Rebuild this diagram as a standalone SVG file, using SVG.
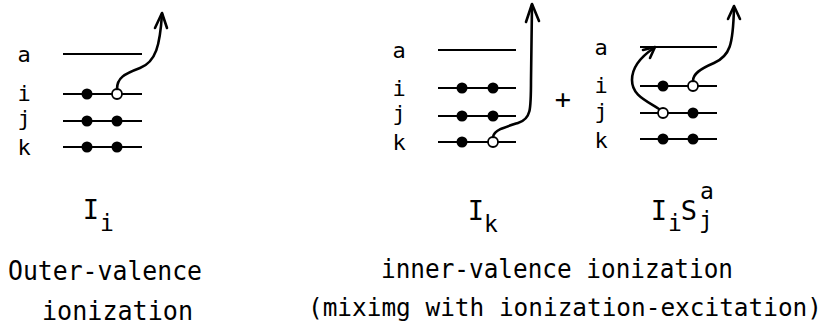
<svg xmlns="http://www.w3.org/2000/svg" width="834" height="326" viewBox="0 0 834 326">
<style>
.lv{stroke:#000;stroke-width:2;fill:none}
.e{fill:#000}
.h{fill:#fff;stroke:#000;stroke-width:1.8}
.arr{stroke:#000;stroke-width:2.6;fill:none;stroke-linecap:round;stroke-linejoin:round}
.lab{font-family:"DejaVu Sans Mono",monospace;font-size:22px;fill:#000;text-anchor:middle}
.big{font-family:"DejaVu Sans Mono",monospace;font-size:26px;fill:#000}
.big2{font-family:"DejaVu Sans Mono",monospace;font-size:24.4px;fill:#000}
.sym{font-family:"DejaVu Sans Mono",monospace;font-size:27px;fill:#000;text-anchor:middle}
.sub{font-family:"DejaVu Sans Mono",monospace;font-size:23px;fill:#000;text-anchor:middle}
</style>
<rect width="834" height="326" fill="#fff"/>
<g id="panel-outer">
<text class="lab" x="24" y="62">a</text>
<text class="lab" x="24" y="101">i</text>
<text class="lab" x="24" y="126">j</text>
<text class="lab" x="24" y="155">k</text>
<line class="lv" x1="63" y1="54" x2="142" y2="54"/>
<line class="lv" x1="63" y1="94" x2="142" y2="94"/>
<line class="lv" x1="63" y1="121" x2="142" y2="121"/>
<line class="lv" x1="63" y1="147" x2="142" y2="147"/>
<circle class="e" cx="87" cy="94" r="5.5"/>
<circle class="h" cx="117" cy="94" r="5"/>
<circle class="e" cx="87" cy="121" r="5.5"/>
<circle class="e" cx="117" cy="121" r="5.5"/>
<circle class="e" cx="87" cy="147" r="5.5"/>
<circle class="e" cx="117" cy="147" r="5.5"/>
</g>
<g id="panel-inner">
<text class="lab" x="399" y="58">a</text>
<text class="lab" x="399" y="96">i</text>
<text class="lab" x="399" y="121">j</text>
<text class="lab" x="399" y="150">k</text>
<line class="lv" x1="438" y1="50" x2="516" y2="50"/>
<line class="lv" x1="438" y1="88" x2="516" y2="88"/>
<line class="lv" x1="438" y1="116" x2="516" y2="116"/>
<line class="lv" x1="438" y1="142" x2="516" y2="142"/>
<circle class="e" cx="462" cy="88" r="5.5"/>
<circle class="e" cx="493" cy="88" r="5.5"/>
<circle class="e" cx="462" cy="116" r="5.5"/>
<circle class="e" cx="493" cy="116" r="5.5"/>
<circle class="e" cx="462" cy="142" r="5.5"/>
<circle class="h" cx="493" cy="142" r="5"/>
</g>
<g id="plus"><text class="sym" x="563" y="108">+</text></g>
<g id="panel-excitation">
<text class="lab" x="601" y="55">a</text>
<text class="lab" x="601" y="93">i</text>
<text class="lab" x="601" y="119">j</text>
<text class="lab" x="601" y="148">k</text>
<line class="lv" x1="640" y1="47" x2="717" y2="47"/>
<line class="lv" x1="640" y1="86" x2="717" y2="86"/>
<line class="lv" x1="640" y1="113" x2="717" y2="113"/>
<line class="lv" x1="640" y1="139" x2="717" y2="139"/>
<circle class="e" cx="663" cy="86" r="5.5"/>
<circle class="h" cx="693" cy="86" r="5"/>
<circle class="h" cx="663" cy="113" r="5"/>
<circle class="e" cx="693" cy="113" r="5.5"/>
<circle class="e" cx="663" cy="139" r="5.5"/>
<circle class="e" cx="693" cy="139" r="5.5"/>
</g>
<g id="connectors">
<path class="arr" d="M117,89 C117,78 124,74 140,68 C156,62 160,45 162,14"/>
<path class="arr" d="M155,28 L162,13 L167,28"/>
<path class="arr" d="M493,137 C494,130 505,127 518,123 C531,119 531,110 531,80 L532,5"/>
<path class="arr" d="M526,22 L532,4 L539,21"/>
<path class="arr" d="M659,109 C645,100 632,95 632,80 C632,66 642,56 654,48"/>
<path class="arr" d="M643,50 L655,47 L650,58"/>
<path class="arr" d="M693,81 C693,74 700,69 714,63 C730,56 733,45 734,8"/>
<path class="arr" d="M728,19 L734,6 L740,19"/>
</g>
<g id="labels">
<text class="sym" x="91" y="219">I</text>
<text class="sub" x="107" y="231">i</text>
<text class="sym" x="476" y="220">I</text>
<text class="sub" x="491" y="232">k</text>
<text class="sym" x="659" y="220">I</text>
<text class="sub" x="675" y="231">i</text>
<text class="sym" x="689" y="220">S</text>
<text class="sub" x="707" y="199">a</text>
<text class="sub" x="706" y="228">j</text>
<text class="big" x="8" y="280" textLength="194" lengthAdjust="spacingAndGlyphs">Outer-valence</text>
<text class="big" x="42" y="320" textLength="151" lengthAdjust="spacingAndGlyphs">ionization</text>
<text class="big" x="381" y="278" textLength="352" lengthAdjust="spacingAndGlyphs">inner-valence ionization</text>
<text class="big2" x="308" y="316">(miximg with ionization-excitation)</text>
</g>
</svg>
